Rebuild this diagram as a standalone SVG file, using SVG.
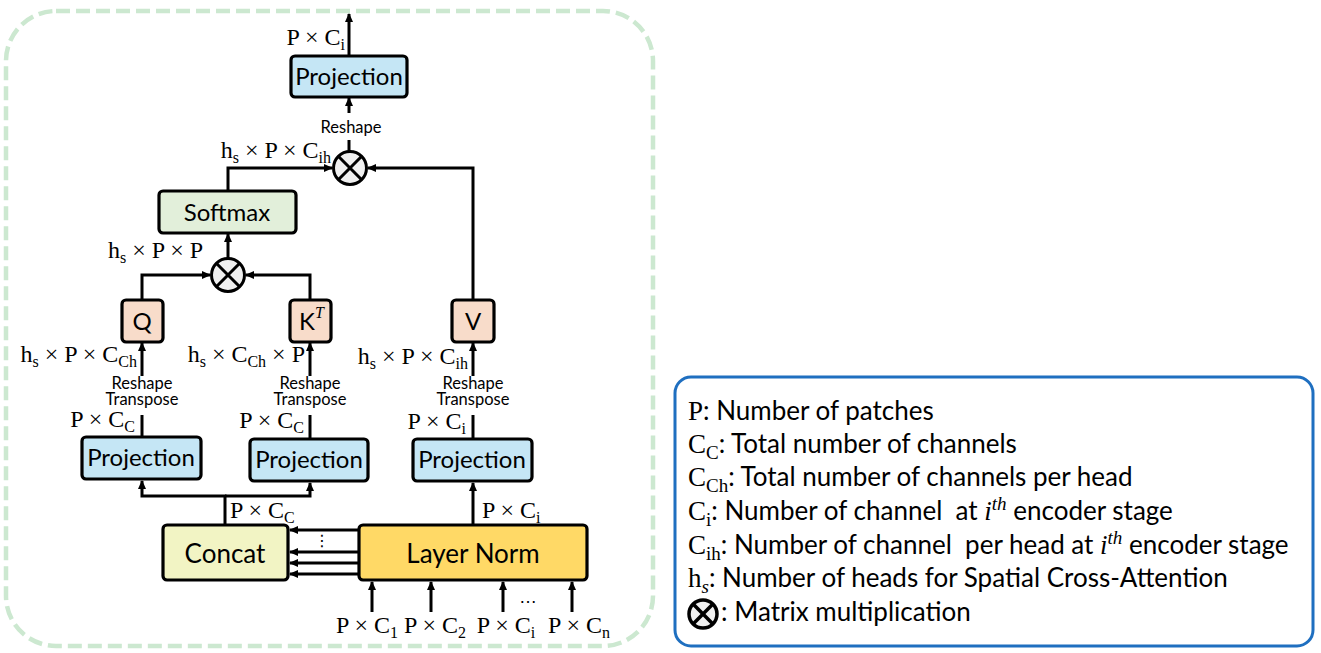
<svg xmlns="http://www.w3.org/2000/svg" width="1321" height="653" viewBox="0 0 1321 653">
<style>
.box{stroke:#000;stroke-width:3.2}
.proj{fill:#c5e6f5}
.lbl{font-family:Lato,"Liberation Sans",sans-serif;fill:#000;text-anchor:middle}
.m{font-family:"Liberation Serif","DejaVu Serif",serif;font-size:24px;fill:#000}
.sub{font-size:16px}
.small{font-family:Lato,"Liberation Sans",sans-serif;font-size:16.5px;fill:#000;text-anchor:middle}
.ln{fill:none;stroke:#000;stroke-width:3;marker-end:url(#ah)}
.pl{fill:none;stroke:#000;stroke-width:3}
.mul{fill:#f0f0f0;stroke:#000;stroke-width:3}
.leg{font-family:Lato,"Liberation Sans",sans-serif;font-size:26px;fill:#000;white-space:pre}
.legm{font-family:"Liberation Serif","DejaVu Serif",serif;font-size:27px}
.legs{font-family:"Liberation Serif","DejaVu Serif",serif;font-size:19px}
</style>
<defs>
<marker id="ah" viewBox="0 0 9 8" refX="8" refY="4" markerWidth="9" markerHeight="8" markerUnits="userSpaceOnUse" orient="auto">
<path d="M0,0 L9,4 L0,8 z" fill="#000"/>
</marker>
</defs>
<rect x="6" y="11" width="647" height="635" rx="50" fill="none" stroke="#cce8d0" stroke-width="4.5" stroke-dasharray="14 6"/>

<g id="connectors">
<path class="ln" d="M349,56 V14"/>
<path class="ln" d="M349,113 V98"/>
<path class="pl" d="M349,152 V140"/>
<path class="ln" d="M228,191 V168 H332"/>
<path class="ln" d="M473,300 V168 H368"/>
<path class="ln" d="M228,258 V234"/>
<path class="ln" d="M142,300 V275 H210"/>
<path class="ln" d="M310,300 V275 H246"/>
<path class="ln" d="M142,376 V343"/>
<path class="pl" d="M142,415 V437"/>
<path class="ln" d="M310,376 V343"/>
<path class="pl" d="M310,415 V439"/>
<path class="ln" d="M473,376 V343"/>
<path class="pl" d="M473,415 V439"/>
<path class="ln" d="M225,525 V496 H142 V481"/>
<path class="ln" d="M225,496 H310 V483"/>
<path class="ln" d="M473,525 V483"/>
<path class="ln" d="M359,530 H290"/>
<path class="ln" d="M359,552 H290"/>
<path class="ln" d="M359,563 H290"/>
<path class="ln" d="M359,574 H290"/>
<path class="ln" d="M372,612 V582"/>
<path class="ln" d="M431,612 V582"/>
<path class="ln" d="M503,612 V582"/>
<path class="ln" d="M572,612 V582"/>
</g>

<g id="connector-labels">
<text class="m" x="345" y="45" text-anchor="end">P × C<tspan class="sub" dy="5">i</tspan></text>
<text class="small" x="351" y="133">Reshape</text>
<text class="m" x="331" y="158" text-anchor="end">h<tspan class="sub" dy="5">s</tspan><tspan dy="-5"> × P × C</tspan><tspan class="sub" dy="5">ih</tspan></text>
<text class="m" x="108" y="258">h<tspan class="sub" dy="5">s</tspan><tspan dy="-5"> × P × P</tspan></text>
<text class="m" x="137" y="362" text-anchor="end">h<tspan class="sub" dy="5">s</tspan><tspan dy="-5"> × P × C</tspan><tspan class="sub" dy="5">Ch</tspan></text>
<text class="m" x="305" y="362" text-anchor="end">h<tspan class="sub" dy="5">s</tspan><tspan dy="-5"> × C</tspan><tspan class="sub" dy="5">Ch</tspan><tspan dy="-5"> × P</tspan></text>
<text class="m" x="468" y="364" text-anchor="end">h<tspan class="sub" dy="5">s</tspan><tspan dy="-5"> × P × C</tspan><tspan class="sub" dy="5">ih</tspan></text>
<text class="small" x="142" y="389">Reshape<tspan x="142" dy="16">Transpose</tspan></text>
<text class="small" x="310" y="389">Reshape<tspan x="310" dy="16">Transpose</tspan></text>
<text class="small" x="473" y="389">Reshape<tspan x="473" dy="16">Transpose</tspan></text>
<text class="m" x="135" y="427" text-anchor="end">P × C<tspan class="sub" dy="5">C</tspan></text>
<text class="m" x="304" y="428" text-anchor="end">P × C<tspan class="sub" dy="5">C</tspan></text>
<text class="m" x="466" y="429" text-anchor="end">P × C<tspan class="sub" dy="5">i</tspan></text>
<text class="m" x="230" y="518">P × C<tspan class="sub" dy="5">C</tspan></text>
<text class="m" x="482" y="518">P × C<tspan class="sub" dy="5">i</tspan></text>
<text x="322" y="546" font-family="DejaVu Sans,sans-serif" font-size="16" text-anchor="middle">⋮</text>
<text x="528" y="603" font-family="Liberation Sans,sans-serif" font-size="18" text-anchor="middle">…</text>
<text class="m" x="367" y="633" text-anchor="middle">P × C<tspan class="sub" dy="5">1</tspan></text>
<text class="m" x="435" y="633" text-anchor="middle">P × C<tspan class="sub" dy="5">2</tspan></text>
<text class="m" x="506" y="633" text-anchor="middle">P × C<tspan class="sub" dy="5">i</tspan></text>
<text class="m" x="579" y="633" text-anchor="middle">P × C<tspan class="sub" dy="5">n</tspan></text>
</g>

<g id="proj-out">
<rect class="box proj" x="291" y="56" width="116" height="41" rx="4"/>
<text class="lbl" x="349" y="85" font-size="24">Projection</text>
</g>
<g id="mul1">
<circle class="mul" cx="350" cy="168" r="16.5"/>
<path d="M338.3,156.3 L361.7,179.7 M361.7,156.3 L338.3,179.7" stroke="#000" stroke-width="3"/>
</g>
<g id="softmax">
<rect class="box" x="159" y="191" width="137" height="42" rx="4" fill="#e2efda"/>
<text class="lbl" x="227" y="221" font-size="24">Softmax</text>
</g>
<g id="mul2">
<circle class="mul" cx="228" cy="275" r="16.5"/>
<path d="M216.3,263.3 L239.7,286.7 M239.7,263.3 L216.3,286.7" stroke="#000" stroke-width="3"/>
</g>
<g id="q">
<rect class="box" x="122" y="300" width="41" height="42" rx="4" fill="#f8dcca"/>
<text class="lbl" x="142" y="330" font-size="24">Q</text>
</g>
<g id="kt">
<rect class="box" x="290" y="300" width="41" height="42" rx="4" fill="#f8dcca"/>
<text class="lbl" x="307" y="330" font-size="24">K</text>
<text x="315" y="318" font-family="Liberation Serif,serif" font-style="italic" font-size="16">T</text>
</g>
<g id="v">
<rect class="box" x="452" y="300" width="42" height="42" rx="4" fill="#f8dcca"/>
<text class="lbl" x="473" y="330" font-size="24">V</text>
</g>
<g id="proj-q">
<rect class="box proj" x="82" y="437" width="119" height="42" rx="4"/>
<text class="lbl" x="141" y="466" font-size="24">Projection</text>
</g>
<g id="proj-k">
<rect class="box proj" x="250" y="439" width="118" height="42" rx="4"/>
<text class="lbl" x="309" y="468" font-size="24">Projection</text>
</g>
<g id="proj-v">
<rect class="box proj" x="413" y="439" width="119" height="42" rx="4"/>
<text class="lbl" x="472" y="468" font-size="24">Projection</text>
</g>
<g id="concat">
<rect class="box" x="163" y="525" width="125" height="55" rx="4" fill="#f2f4c4"/>
<text class="lbl" x="225" y="563" font-size="26">Concat</text>
</g>
<g id="layernorm">
<rect class="box" x="359" y="525" width="228" height="55" rx="4" fill="#ffd966"/>
<text class="lbl" x="473" y="563" font-size="26">Layer Norm</text>
</g>

<g id="legend">
<rect x="675" y="377" width="638" height="269" rx="16" fill="#fff" stroke="#1f6fc0" stroke-width="3"/>
<text class="leg" x="688" y="420"><tspan class="legm">P</tspan>: Number of patches</text>
<text class="leg" x="688" y="453"><tspan class="legm">C</tspan><tspan class="legs" dy="6">C</tspan><tspan dy="-6">: Total number of channels</tspan></text>
<text class="leg" x="688" y="486"><tspan class="legm">C</tspan><tspan class="legs" dy="6">Ch</tspan><tspan dy="-6">: Total number of channels per head</tspan></text>
<text class="leg" x="688" y="520"><tspan class="legm">C</tspan><tspan class="legs" dy="6">i</tspan><tspan dy="-6">: Number of channel  at </tspan><tspan class="legm" font-style="italic">i</tspan><tspan class="legs" font-style="italic" dy="-10">th</tspan><tspan dy="10"> encoder stage</tspan></text>
<text class="leg" x="688" y="554"><tspan class="legm">C</tspan><tspan class="legs" dy="6">ih</tspan><tspan dy="-6">: Number of channel  per head at </tspan><tspan class="legm" font-style="italic">i</tspan><tspan class="legs" font-style="italic" dy="-10">th</tspan><tspan dy="10"> encoder stage</tspan></text>
<text class="leg" x="688" y="587"><tspan class="legm">h</tspan><tspan class="legs" font-style="italic" dy="6">s</tspan><tspan dy="-6">: Number of heads for Spatial Cross-Attention</tspan></text>
<circle cx="703" cy="614" r="14" fill="#f0f0f0" stroke="#000" stroke-width="3.5"/>
<path d="M693.1,604.1 L712.9,623.9 M712.9,604.1 L693.1,623.9" stroke="#000" stroke-width="3.5"/>
<text class="leg" x="721" y="621">: Matrix multiplication</text>
</g>
</svg>
